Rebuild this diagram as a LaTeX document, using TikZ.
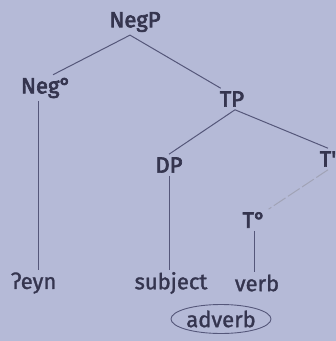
\documentclass[tikz,border=0pt]{standalone}
\usepackage{fontspec}
\setmainfont{Fira Sans}
\newfontfamily\catfont{Fira Sans}[FakeBold=3]
\newfontfamily\wordfont{Fira Sans}[FakeBold=1.4]
\usetikzlibrary{shapes.geometric}
\definecolor{paper}{HTML}{B5BAD7}
\definecolor{ink}{HTML}{35354F}
\definecolor{branch}{HTML}{55577A}
\tikzset{
  cat/.style={text=ink, font=\fontsize{22}{23}\selectfont\catfont, inner sep=3pt},
  word/.style={text=ink, font=\fontsize{22}{23}\selectfont\wordfont, inner sep=2pt},
  edge/.style={draw=branch, line width=1pt},
}
\begin{document}
\begin{tikzpicture}[x=1pt,y=-1pt]
      \fill[paper] (0,0) rectangle (336,341);
      \clip (0,0) rectangle (336,341);

      \node[cat] (negp) at (135,22) {NegP};
      \node[cat] (neg) at (46,88) {Neg°};
      \node[cat] (tp) at (232,99) {TP};
      \node[cat] (dp) at (169,165) {DP};
      \node[cat] (tbar) at (328,159) {T'};
      \node[cat] (tzero) at (254,220) {T°};

      \node[word] (eyn) at (34,283) {ʔeyn};
      \node[word] (subj) at (171,283) {subject};
      \node[word] (verb) at (257,283) {verb};
      \node[word, ellipse, draw=branch, line width=0.9pt, inner sep=0pt,
            minimum width=100pt, minimum height=29pt] (adv) at (221,319) {adverb};

      \draw[edge] ([xshift=-5pt]negp.south) -- ([xshift=7pt]neg.north);
      \draw[edge] ([xshift=-5pt]negp.south) -- ([xshift=4pt]tp.north west);
      \draw[edge] ([xshift=3pt]tp.south) -- (dp.north);
      \draw[edge] ([xshift=3pt]tp.south) -- (tbar.north);
      \draw[edge, draw=branch!55, dash pattern=on 14pt off 3pt] (tbar.south) -- (tzero.north east);
      \draw[edge] ([xshift=-8pt]neg.south) -- ([xshift=-8pt]neg.south |- eyn.north);
      \draw[edge] (dp.south) -- (dp.south |- subj.north);
      \draw[edge] (tzero.south) -- (tzero.south |- verb.north);
    \end{tikzpicture}
\end{document}
